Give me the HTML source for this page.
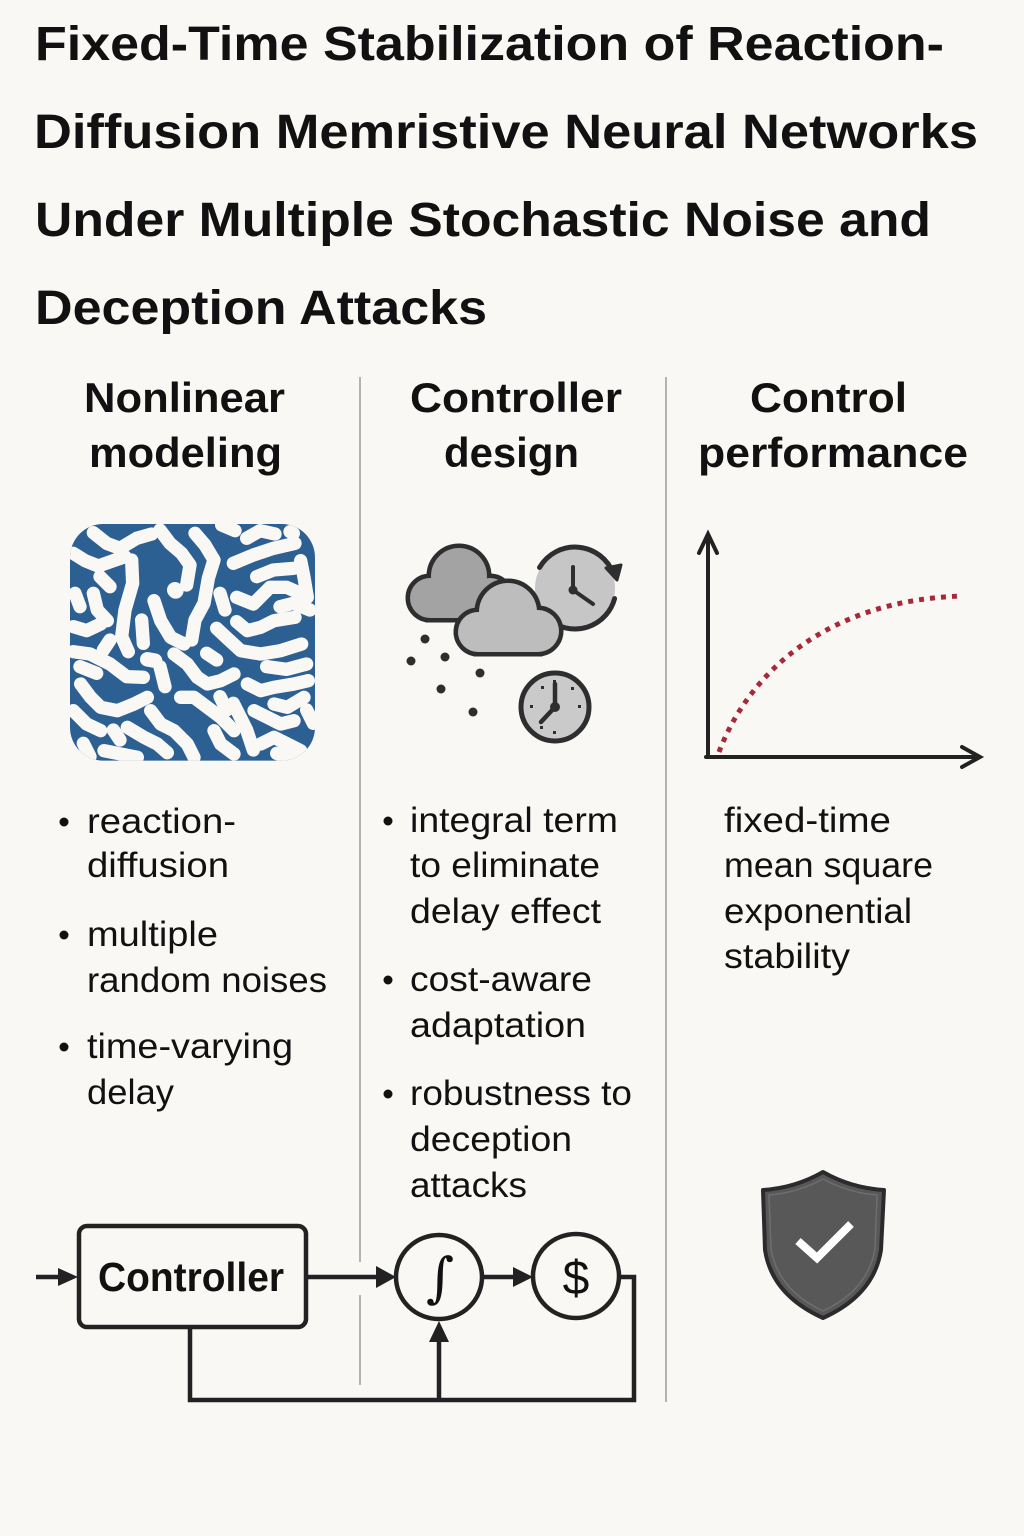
<!DOCTYPE html>
<html>
<head>
<meta charset="utf-8">
<style>
html,body{margin:0;padding:0;background:#f9f8f4;}
svg{display:block;}
</style>
</head>
<body>
<svg width="1024" height="1536" viewBox="0 0 1024 1536" xmlns="http://www.w3.org/2000/svg">
<rect width="1024" height="1536" fill="#f9f8f4"/>

<!-- Title -->
<g font-family="'Liberation Sans', sans-serif" font-weight="bold" font-size="48" fill="#111">
<text x="35" y="60" textLength="909" lengthAdjust="spacingAndGlyphs">Fixed-Time Stabilization of Reaction-</text>
<text x="34" y="148" textLength="944" lengthAdjust="spacingAndGlyphs">Diffusion Memristive Neural Networks</text>
<text x="35" y="236" textLength="896" lengthAdjust="spacingAndGlyphs">Under Multiple Stochastic Noise and</text>
<text x="35" y="324" textLength="452" lengthAdjust="spacingAndGlyphs">Deception Attacks</text>
</g>

<!-- Column headers -->
<g font-family="'Liberation Sans', sans-serif" font-weight="bold" font-size="42" fill="#111">
<text x="84" y="412" textLength="201" lengthAdjust="spacingAndGlyphs">Nonlinear</text>
<text x="89" y="467" textLength="193" lengthAdjust="spacingAndGlyphs">modeling</text>
<text x="410" y="412" textLength="212" lengthAdjust="spacingAndGlyphs">Controller</text>
<text x="444" y="467" textLength="135" lengthAdjust="spacingAndGlyphs">design</text>
<text x="750" y="412" textLength="157" lengthAdjust="spacingAndGlyphs">Control</text>
<text x="698" y="467" textLength="270" lengthAdjust="spacingAndGlyphs">performance</text>
</g>

<!-- Dividers -->
<g stroke="#9c9c9c" stroke-width="1.5">
<line x1="360" y1="377" x2="360" y2="1262"/>
<line x1="360" y1="1295" x2="360" y2="1385"/>
<line x1="666" y1="377" x2="666" y2="1402"/>
</g>

<!-- Reaction-diffusion pattern -->
<defs>
<clipPath id="pc"><rect x="30" y="42" width="735" height="710" rx="100" ry="100"/></clipPath>
</defs>
<g transform="translate(60 510) scale(0.33333)">
<rect x="30" y="42" width="735" height="710" rx="100" ry="100" fill="#2c5f92"/>
<g clip-path="url(#pc)" fill="none" stroke="#f9f8f4" stroke-width="40" stroke-linecap="round" stroke-linejoin="round">
<path d="M100,68 L140,100 L180,115 L230,85 L275,72"/>
<path d="M40,130 L75,152 L115,168 L160,152 L195,140"/>
<path d="M215,150 L218,220 L195,300 L185,380 L205,425"/>
<path d="M300,60 L330,100 L365,130 L390,165 L380,225"/>
<path d="M345,240 L347,242" stroke-width="48"/>
<path d="M405,70 L435,105 L462,150 L445,205 L432,280 L405,330 L395,390"/>
<path d="M485,45 L525,62 M560,85 L600,62 L645,72"/>
<path d="M520,160 L580,135 L640,115 L705,100"/>
<path d="M690,65 L700,70"/>
<path d="M530,262 L580,282 L630,232 L680,232 L725,252"/>
<path d="M530,335 L562,362 L602,352 L642,332 L705,322"/>
<path d="M470,355 L502,385 L542,422 L602,432 L662,422 L725,402"/>
<path d="M40,350 L80,362 L122,342"/>
<path d="M40,425 L90,432 L150,462 L200,500 L250,502"/>
<path d="M262,448 L285,452" stroke-width="44"/>
<path d="M282,272 L302,332 L332,382 L372,402"/>
<path d="M342,432 L382,462 L412,502 L442,522 L482,512 L522,492"/>
<path d="M362,562 L402,562 L442,592 L482,622 L522,662"/>
<path d="M62,522 L92,562 L122,592 L172,602 L222,582 L262,562"/>
<path d="M40,602 L80,642 L122,662"/>
<path d="M202,652 L252,682 L292,702 L322,728"/>
<path d="M132,722 L182,732 L232,742"/>
<path d="M562,522 L602,542 L642,532 L702,522 L745,512"/>
<path d="M582,602 L622,622 L662,642 L702,632"/>
<path d="M602,702 L642,682 L682,702 L722,722"/>
<path d="M272,602 L302,642 L342,662 L382,702 L402,742"/>
<path d="M462,662 L482,702 L522,732"/>
<path d="M722,152 L732,202 L742,262"/>
<path d="M100,250 L112,300 L142,332"/>
<path d="M642,582 L682,592 L732,562"/>
<path d="M120,200 L150,230"/>
<path d="M45,250 L60,290"/>
<path d="M590,200 L640,180 L700,175"/>
<path d="M480,250 L495,300"/>
<path d="M620,470 L680,478 L740,462"/>
<path d="M520,580 L540,620 L560,660 L580,720"/>
<path d="M70,700 L90,740"/>
<path d="M245,330 L250,400"/>
<path d="M300,470 L315,530"/>
<path d="M150,390 L130,420"/>
<path d="M660,290 L700,280 L750,300"/>
<path d="M440,430 L470,450"/>
<path d="M480,560 L500,600"/>
<path d="M160,660 L180,690"/>
<path d="M740,600 L760,640"/>
<path d="M60,470 L110,490"/>
<path d="M650,730 L700,750"/>
</g>
</g>

<!-- Clouds & clocks icon -->
<g>
  <!-- refresh clock -->
  <circle cx="575" cy="588" r="40" fill="#c6c6c6"/>
  <path d="M539.5,567.5 A41,41 0 0 1 613.5,574" fill="none" stroke="#2e2e2e" stroke-width="5" stroke-linecap="round"/>
  <path d="M606,568 L617,580 L621,565 Z" fill="#2e2e2e" stroke="#2e2e2e" stroke-width="3" stroke-linejoin="round"/>
  <path d="M614.6,598.6 A41,41 0 0 1 548.6,619.4" fill="none" stroke="#2e2e2e" stroke-width="5" stroke-linecap="round"/>
  <line x1="573" y1="590" x2="573" y2="567" stroke="#2e2e2e" stroke-width="4" stroke-linecap="round"/>
  <line x1="573" y1="590" x2="593" y2="604" stroke="#2e2e2e" stroke-width="4" stroke-linecap="round"/>
  <circle cx="573" cy="590" r="4.5" fill="#2e2e2e"/>

  <!-- back cloud outline -->
  <g fill="#2e2e2e" stroke="#2e2e2e" stroke-width="9">
    <circle cx="430" cy="598" r="20"/>
    <circle cx="459" cy="576" r="28"/>
    <circle cx="490" cy="598" r="20"/>
    <rect x="430" y="590" width="60" height="28"/>
  </g>
  <g fill="#a3a3a3">
    <circle cx="430" cy="598" r="20"/>
    <circle cx="459" cy="576" r="28"/>
    <circle cx="490" cy="598" r="20"/>
    <rect x="430" y="590" width="60" height="28"/>
  </g>
  <!-- front cloud outline -->
  <g fill="#2e2e2e" stroke="#2e2e2e" stroke-width="9">
    <circle cx="478" cy="632" r="20"/>
    <circle cx="508" cy="612" r="29"/>
    <circle cx="538" cy="631" r="21"/>
    <rect x="478" y="625" width="60" height="27"/>
  </g>
  <g fill="#bdbdbd">
    <circle cx="478" cy="632" r="20"/>
    <circle cx="508" cy="612" r="29"/>
    <circle cx="538" cy="631" r="21"/>
    <rect x="478" y="625" width="60" height="27"/>
  </g>

  <!-- dots -->
  <g fill="#2e2e2e">
    <circle cx="425" cy="639" r="4.5"/>
    <circle cx="411" cy="661" r="4.5"/>
    <circle cx="445" cy="657" r="4.5"/>
    <circle cx="480" cy="673" r="4.5"/>
    <circle cx="441" cy="689" r="4.5"/>
    <circle cx="473" cy="712" r="4.5"/>
  </g>

  <!-- bottom clock -->
  <circle cx="555" cy="707" r="34" fill="#cacaca" stroke="#2e2e2e" stroke-width="5"/>
  <g fill="#2e2e2e">
    <rect x="553" y="680" width="3" height="3"/>
    <rect x="553" y="731" width="3" height="3"/>
    <rect x="530" y="705" width="3" height="3"/>
    <rect x="578" y="705" width="3" height="3"/>
    <rect x="541" y="686" width="3" height="3"/>
    <rect x="571" y="687" width="3" height="3"/>
    <rect x="540" y="726" width="3" height="3"/>
  </g>
  <line x1="555" y1="707" x2="555" y2="684" stroke="#2e2e2e" stroke-width="4.5" stroke-linecap="round"/>
  <line x1="555" y1="707" x2="541" y2="722" stroke="#2e2e2e" stroke-width="4.5" stroke-linecap="round"/>
  <circle cx="555" cy="707" r="5" fill="#2e2e2e"/>
</g>

<!-- Graph -->
<g fill="none" stroke="#222" stroke-width="4" stroke-linecap="round">
  <line x1="708" y1="536" x2="708" y2="757"/>
  <line x1="706" y1="757" x2="979" y2="757"/>
  <polyline points="699,553 708,534 717,553" stroke-linejoin="miter"/>
  <polyline points="962,747 980,757 962,767" stroke-linejoin="miter"/>
</g>
<path d="M719,752 C750,670 830,600 962,596" fill="none" stroke="#a8283a" stroke-width="5" stroke-dasharray="5 6"/>

<!-- Bullets left -->
<g font-family="'Liberation Sans', sans-serif" font-size="35" fill="#111">
  <circle cx="64" cy="822" r="4.5"/>
  <text x="87" y="833" textLength="149" lengthAdjust="spacingAndGlyphs">reaction-</text>
  <text x="87" y="877" textLength="142" lengthAdjust="spacingAndGlyphs">diffusion</text>
  <circle cx="64" cy="935" r="4.5"/>
  <text x="87" y="946" textLength="131" lengthAdjust="spacingAndGlyphs">multiple</text>
  <text x="87" y="992" textLength="240" lengthAdjust="spacingAndGlyphs">random noises</text>
  <circle cx="64" cy="1047" r="4.5"/>
  <text x="87" y="1058" textLength="206" lengthAdjust="spacingAndGlyphs">time-varying</text>
  <text x="87" y="1104" textLength="87" lengthAdjust="spacingAndGlyphs">delay</text>

  <!-- Bullets middle -->
  <circle cx="388" cy="821" r="4.5"/>
  <text x="410" y="832" textLength="208" lengthAdjust="spacingAndGlyphs">integral term</text>
  <text x="410" y="877" textLength="190" lengthAdjust="spacingAndGlyphs">to eliminate</text>
  <text x="410" y="923" textLength="191" lengthAdjust="spacingAndGlyphs">delay effect</text>
  <circle cx="388" cy="980" r="4.5"/>
  <text x="410" y="991" textLength="182" lengthAdjust="spacingAndGlyphs">cost-aware</text>
  <text x="410" y="1037" textLength="176" lengthAdjust="spacingAndGlyphs">adaptation</text>
  <circle cx="388" cy="1094" r="4.5"/>
  <text x="410" y="1105" textLength="222" lengthAdjust="spacingAndGlyphs">robustness to</text>
  <text x="410" y="1151" textLength="162" lengthAdjust="spacingAndGlyphs">deception</text>
  <text x="410" y="1197" textLength="117" lengthAdjust="spacingAndGlyphs">attacks</text>

  <!-- Right column -->
  <text x="724" y="832" textLength="167" lengthAdjust="spacingAndGlyphs">fixed-time</text>
  <text x="724" y="877" textLength="209" lengthAdjust="spacingAndGlyphs">mean square</text>
  <text x="724" y="923" textLength="188" lengthAdjust="spacingAndGlyphs">exponential</text>
  <text x="724" y="968" textLength="126" lengthAdjust="spacingAndGlyphs">stability</text>
</g>

<!-- Shield -->
<path d="M823,1172 Q795,1188 763,1190 L765,1250 Q772,1295 823,1318 Q874,1295 881,1250 L884,1190 Q851,1188 823,1172 Z" fill="#585858" stroke="#2b2b2b" stroke-width="4" stroke-linejoin="round"/>
<path d="M823,1179 Q797,1193 769,1195 L771,1249 Q778,1290 823,1311 Q868,1290 875,1249 L877,1195 Q849,1193 823,1179 Z" fill="none" stroke="#6e6e6e" stroke-width="1.5"/>
<polyline points="798,1241 817,1258 851,1224" fill="none" stroke="#ffffff" stroke-width="8" stroke-linejoin="miter"/>

<!-- Block diagram -->
<g stroke="#222" stroke-width="4.5" fill="none">
  <rect x="79" y="1226" width="227" height="101" rx="8" ry="8"/>
  <line x1="36" y1="1277" x2="62" y2="1277"/>
  <line x1="306" y1="1277" x2="380" y2="1277"/>
  <line x1="483" y1="1277" x2="516" y2="1277"/>
  <ellipse cx="439" cy="1277" rx="43" ry="42"/>
  <ellipse cx="576" cy="1276" rx="43" ry="42"/>
  <polyline points="619,1277 634,1277 634,1400 190,1400 190,1327"/>
  <line x1="439" y1="1400" x2="439" y2="1338"/>
</g>
<g fill="#222">
  <polygon points="58,1268 78,1277 58,1286"/>
  <polygon points="376,1266 396,1277 376,1288"/>
  <polygon points="513,1267 533,1277 513,1287"/>
  <polygon points="429,1342 439,1321 449,1342"/>
</g>
<text x="191" y="1291" text-anchor="middle" font-family="'Liberation Sans', sans-serif" font-weight="bold" font-size="41" fill="#111" textLength="186" lengthAdjust="spacingAndGlyphs">Controller</text>
<text x="440" y="1296" text-anchor="middle" font-family="'DejaVu Serif', 'Liberation Serif', serif" font-style="italic" font-size="54" fill="#111">∫</text>
<text x="576" y="1294" text-anchor="middle" font-family="'Liberation Sans', sans-serif" font-size="48" fill="#111">$</text>
</svg>
</body>
</html>
